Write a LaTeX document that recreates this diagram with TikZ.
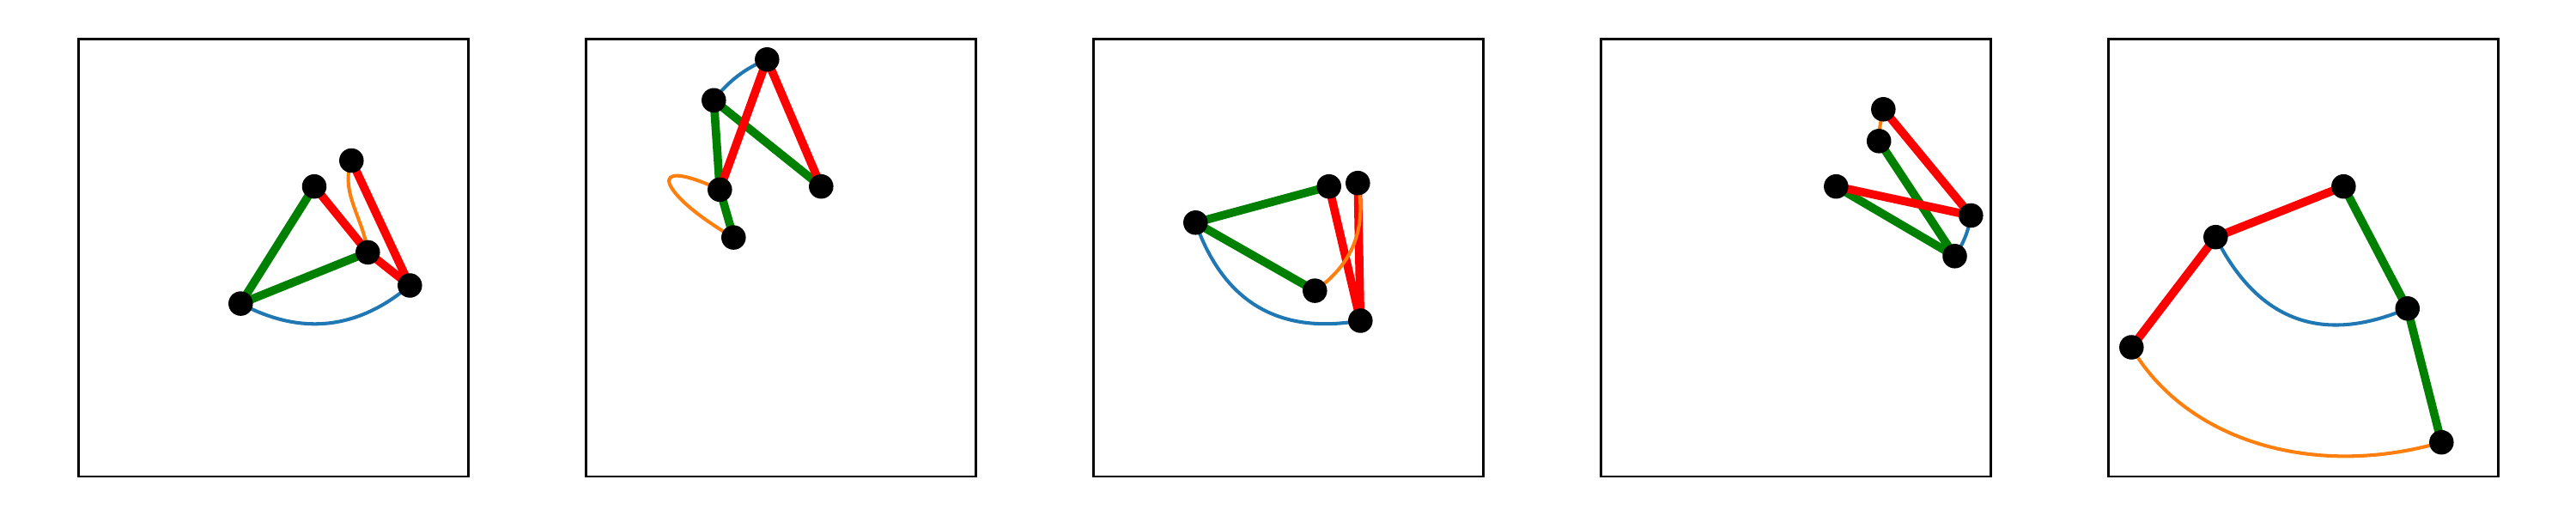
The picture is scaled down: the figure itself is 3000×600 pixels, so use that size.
\documentclass[tikz,border=0pt]{standalone}
\usetikzlibrary{backgrounds}
\definecolor{mplred}{RGB}{255,0,0}
\definecolor{mplgreen}{RGB}{0,128,0}
\definecolor{mplblue}{RGB}{31,119,180}
\definecolor{mplorange}{RGB}{255,127,14}
\tikzset{
  dot/.style={circle, fill=black, inner sep=0pt, minimum size=0.285cm},
  redE/.style={draw=mplred, line width=2.75pt},
  greenE/.style={draw=mplgreen, line width=2.75pt},
  blueE/.style={draw=mplblue, line width=1.15pt},
  orangeE/.style={draw=mplorange, line width=1.15pt},
  panel/.style={draw=black, line width=0.75pt}
}
\begin{document}
\begin{tikzpicture}[x=0.01cm, y=0.01cm]
\useasboundingbox (0,0) rectangle (3000,600);
% frames
\foreach \k in {0,1,2,3,4} {
  \draw[panel] (91.5+591*\k,45) rectangle (545.5+591*\k,554.7);
}
% panel 1
\node[dot] (A) at (280.3,246.4) {};
\node[dot] (B) at (366,382.8) {};
\node[dot] (C) at (409.3,413.0) {};
\node[dot] (D) at (428.3,306.1) {};
\node[dot] (E) at (477.3,267.5) {};
% panel 2
\node[dot] (P) at (893.3,530.7) {};
\node[dot] (Q) at (831.3,483.2) {};
\node[dot] (R) at (838.3,379.1) {};
\node[dot] (S) at (956.3,382.8) {};
\node[dot] (T) at (854.3,323.4) {};
% panel 3
\node[dot] (F) at (1392.3,340.7) {};
\node[dot] (G) at (1547.7,382.8) {};
\node[dot] (H) at (1581.3,386.8) {};
\node[dot] (I) at (1531.3,261.4) {};
\node[dot] (J) at (1584.3,226.5) {};
% panel 4
\node[dot] (K) at (2193.3,472.7) {};
\node[dot] (L) at (2188.2,435.7) {};
\node[dot] (M) at (2138.3,382.8) {};
\node[dot] (N) at (2295.3,349) {};
\node[dot] (O) at (2276.5,301.7) {};
% panel 5
\node[dot] (U) at (2482.3,195.5) {};
\node[dot] (V) at (2580.3,323.8) {};
\node[dot] (W) at (2729.3,382.8) {};
\node[dot] (X) at (2803.7,240.7) {};
\node[dot] (Y) at (2843.3,84.8) {};

\begin{scope}[on background layer]
% green edges
\draw[greenE] (A.center) -- (B.center);
\draw[greenE] (A.center) -- (D.center);
\draw[greenE] (Q.center) -- (S.center);
\draw[greenE] (Q.center) -- (R.center);
\draw[greenE] (R.center) -- (T.center);
\draw[greenE] (F.center) -- (G.center);
\draw[greenE] (F.center) -- (I.center);
\draw[greenE] (L.center) -- (O.center);
\draw[greenE] (M.center) -- (O.center);
\draw[greenE] (W.center) -- (X.center);
\draw[greenE] (X.center) -- (Y.center);
% red edges
\draw[redE] (B.center) -- (D.center);
\draw[redE] (D.center) -- (E.center);
\draw[redE] (C.center) -- (E.center);
\draw[redE] (P.center) -- (R.center);
\draw[redE] (P.center) -- (S.center);
\draw[redE] (G.center) -- (J.center);
\draw[redE] (H.center) -- (J.center);
\draw[redE] (K.center) -- (N.center);
\draw[redE] (M.center) -- (N.center);
\draw[redE] (U.center) -- (V.center);
\draw[redE] (V.center) -- (W.center);
% blue curves
\draw[blueE] (A.center) .. controls +(70.3,-37.5) and +(-61.1,-51.6) .. (E.center);
\draw[blueE] (Q.center) .. controls +(16.3,21.8) and +(-25.1,-9.9) .. (P.center);
\draw[blueE] (F.center) .. controls +(32.7,-92.5) and +(-95.3,-16.4) .. (J.center);
\draw[blueE] (N.center) .. controls +(-2.5,-17.4) and +(10,14.3) .. (O.center);
\draw[blueE] (V.center) .. controls +(49.3,-97.8) and +(-99.6,-42.4) .. (X.center);
% orange curves
\draw[orangeE] (C.center) .. controls +(-110:40) and +(97:40) .. (D.center);
\draw[orangeE] (R.center) .. controls +(155:100) and +(150:100) .. (T.center);
\draw[orangeE] (H.center) .. controls +(10.5,-53) and +(43.9,30.6) .. (I.center);
\draw[orangeE] (K.center) .. controls +(-2,-12) and +(-1,12) .. (L.center);
\draw[orangeE] (U.center) .. controls +(-60:122) and +(196:160) .. (Y.center);
\end{scope}
\end{tikzpicture}
\end{document}
